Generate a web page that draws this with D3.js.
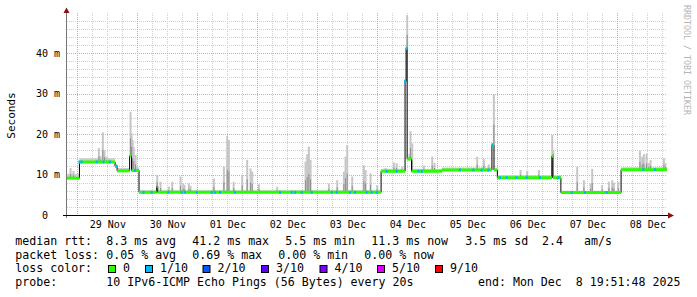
<!DOCTYPE html>
<html>
<head>
<meta charset="utf-8">
<script src="https://cdn.jsdelivr.net/npm/d3@7"></script>
<style>
  body { margin: 0; background: #fff; }
  text { font-family: "DejaVu Sans Mono", monospace; white-space: pre; }
</style>
</head>
<body>
<script>
// median rtt as steps (ms): each value holds until the next time
const stepTimes = [
  "2025-11-28 19:52", "2025-11-29 00:50", "2025-11-29 15:05", "2025-11-29 15:55",
  "2025-11-29 20:55", "2025-11-29 21:40", "2025-11-30 00:40", "2025-11-30 07:45",
  "2025-11-30 08:10", "2025-12-04 01:30", "2025-12-04 11:05", "2025-12-04 11:30",
  "2025-12-04 11:55", "2025-12-04 13:40", "2025-12-05 01:50", "2025-12-05 21:50",
  "2025-12-05 22:40", "2025-12-06 00:00", "2025-12-06 21:50", "2025-12-06 22:15",
  "2025-12-07 01:25", "2025-12-08 01:30"
];
const stepMedian = [9.1, 13.1, 12.0, 10.9, 14.6, 11.0, 5.6, 7.0, 5.6, 10.8, 33.0, 41.2,
  13.8, 10.8, 11.1, 17.3, 11.1, 9.2, 14.5, 9.2, 5.55, 11.2];
// upper edge of the thin smoke band that follows the median
const stepSmokeTop = [10.2, 14.0, 12.6, 11.6, 15.2, 11.8, 6.1, 7.4, 6.1, 11.4, 33.5, 41.6,
  14.5, 11.4, 11.7, 17.8, 11.6, 9.8, 15.0, 9.8, 6.0, 11.8];

// smoke spikes: time and highest ping (ms)
const spikeTimes = [
  "2025-11-28 21:05", "2025-11-28 22:15", "2025-11-29 08:25", "2025-11-29 09:05",
  "2025-11-29 10:00", "2025-11-29 10:40", "2025-11-29 11:30", "2025-11-29 12:20",
  "2025-11-29 15:30", "2025-11-29 21:05", "2025-11-29 21:30", "2025-11-29 21:55",
  "2025-11-29 22:20", "2025-11-29 23:05", "2025-11-30 07:45", "2025-11-30 09:05",
  "2025-11-30 12:25", "2025-11-30 13:45", "2025-11-30 17:05", "2025-11-30 18:10",
  "2025-11-30 18:40", "2025-11-30 20:25", "2025-11-30 21:05", "2025-12-01 06:25",
  "2025-12-01 10:25", "2025-12-01 11:45", "2025-12-01 12:25", "2025-12-01 14:20",
  "2025-12-01 17:45", "2025-12-01 19:45", "2025-12-01 21:05", "2025-12-01 21:45",
  "2025-12-02 00:25", "2025-12-02 07:45", "2025-12-02 19:05", "2025-12-02 19:45",
  "2025-12-02 20:25", "2025-12-02 21:05", "2025-12-03 04:25", "2025-12-03 07:45",
  "2025-12-03 10:25", "2025-12-03 11:05", "2025-12-03 11:45", "2025-12-03 13:45",
  "2025-12-03 18:25", "2025-12-03 19:05", "2025-12-03 21:05", "2025-12-03 23:45",
  "2025-12-04 03:05", "2025-12-04 06:25", "2025-12-04 07:30", "2025-12-04 09:45",
  "2025-12-04 11:05", "2025-12-04 11:45", "2025-12-04 12:40", "2025-12-04 13:05",
  "2025-12-04 13:45", "2025-12-04 18:25", "2025-12-04 21:45", "2025-12-04 22:40",
  "2025-12-05 15:45", "2025-12-05 18:25", "2025-12-05 20:25", "2025-12-05 22:25",
  "2025-12-06 09:05", "2025-12-06 11:45", "2025-12-06 16:25", "2025-12-06 21:45",
  "2025-12-06 22:10", "2025-12-07 07:45", "2025-12-07 10:25", "2025-12-07 13:05",
  "2025-12-07 13:45", "2025-12-07 17:45", "2025-12-07 20:25", "2025-12-07 21:45",
  "2025-12-07 22:25", "2025-12-08 00:10", "2025-12-08 08:50", "2025-12-08 09:45",
  "2025-12-08 10:25", "2025-12-08 11:30", "2025-12-08 12:25", "2025-12-08 13:05",
  "2025-12-08 18:25", "2025-12-08 19:05"
];
const spikeTops = [
  11.6, 10.9, 16.5, 14.5, 20.4, 16.0, 14.4, 14.0,
  11.9, 25.5, 20.2, 18.5, 16.8, 14.8, 9.9, 8.2,
  7.0, 8.2, 9.5, 7.8, 7.4, 7.8, 7.2, 9.0,
  11.9, 19.5, 18.5, 8.2, 9.9, 13.6, 11.5, 10.7,
  7.6, 7.0, 13.2, 15.0, 16.9, 13.6, 7.8, 8.6,
  10.7, 14.4, 17.3, 9.5, 12.3, 11.1, 10.3, 7.4,
  11.6, 13.0, 12.8, 11.9, 33.5, 49.4, 15.2, 20.7,
  17.7, 12.2, 14.4, 12.9, 14.4, 13.75, 12.5, 29.8,
  11.1, 10.9, 11.1, 19.75, 16.0, 11.9, 8.6, 7.8,
  11.4, 7.4, 8.2, 8.6, 8.0, 8.2, 15.9, 14.4,
  15.0, 15.2, 12.8, 13.6, 14.0, 12.8
];

// samples with 1/10 packet loss
const lossTimes = [
  "2025-11-29 00:50", "2025-11-29 01:45", "2025-11-29 07:45", "2025-11-29 10:25",
  "2025-11-29 13:05", "2025-11-29 15:45", "2025-11-29 23:05", "2025-11-30 02:25",
  "2025-11-30 05:45", "2025-11-30 12:25", "2025-11-30 17:45", "2025-11-30 19:05",
  "2025-11-30 23:45", "2025-12-01 05:45", "2025-12-01 07:05", "2025-12-01 09:05",
  "2025-12-01 15:05", "2025-12-02 09:05", "2025-12-02 13:45", "2025-12-02 15:05",
  "2025-12-02 17:45", "2025-12-02 21:45", "2025-12-03 05:45", "2025-12-03 07:45",
  "2025-12-03 13:05", "2025-12-03 15:05", "2025-12-03 19:45", "2025-12-03 21:45",
  "2025-12-03 23:45", "2025-12-04 03:45", "2025-12-04 07:45", "2025-12-04 11:05",
  "2025-12-04 11:45", "2025-12-04 16:25", "2025-12-04 17:45", "2025-12-05 09:05",
  "2025-12-05 14:25", "2025-12-05 17:45", "2025-12-05 20:25", "2025-12-05 22:00",
  "2025-12-06 01:05", "2025-12-06 03:45", "2025-12-06 07:45", "2025-12-06 11:45",
  "2025-12-06 17:05", "2025-12-07 00:25", "2025-12-07 05:45", "2025-12-07 11:05",
  "2025-12-07 19:45", "2025-12-08 10:25", "2025-12-08 15:05"
];

const yTicks = [0, 10, 20, 30, 40];
const lossLabels = ["0", "1/10", "2/10", "3/10", "4/10", "5/10", "9/10"];
const lossColors = ["#26ff00", "#00b8ff", "#0059ff", "#5e00ff", "#7e00ff", "#dd00ff", "#ff0000"];
const lossBoxX = [108.5, 145.5, 203, 261.5, 320, 377.5, 435.5];

const rttLegend = [["median rtt:", 16], ["8.3 ms avg", 107], ["41.2 ms max", 193], ["5.5 ms min", 286],
  ["11.3 ms now", 372], ["3.5 ms sd  2.4   am/s", 466]];
const lossLegend = [["packet loss:", 16], ["0.05 % avg", 107], ["0.69 % max", 193],
  ["0.00 % min", 279], ["0.00 % now", 365]];

const parse = d3.timeParse("%Y-%m-%d %H:%M");
const parseS = d3.timeParse("%Y-%m-%d %H:%M:%S");
const start = parseS("2025-11-28 19:51:48");
const end = parseS("2025-12-08 19:51:48");

const x = d3.scaleTime().domain([start, end]).range([67, 667]);
const y = d3.scaleLinear().domain([0, 50]).range([215, 12.5]);

const steps = stepTimes.map((t, i) => ({ t: parse(t), v: stepMedian[i], top: stepSmokeTop[i] }));
const last = steps[steps.length - 1];
const stepsEnd = steps.concat([{ t: end, v: last.v, top: last.top }]);
const bis = d3.bisector(d => d.t).right;
const medianAt = t => steps[Math.max(0, bis(steps, t) - 1)].v;

const svg = d3.select("body").append("svg")
  .attr("width", 697)
  .attr("height", 297)
  .style("display", "block")
  .style("background", "#fff");

// grid
const grid = svg.append("g").attr("shape-rendering", "crispEdges").attr("stroke-dasharray", "1,1");
const px = v => Math.round(v) + 0.5;
d3.range(2, 50, 2).filter(v => v % 10 !== 0).forEach(v => {
  grid.append("line").attr("x1", 67).attr("x2", 667)
    .attr("y1", px(y(v))).attr("y2", px(y(v))).attr("stroke", "#cfcfcf");
});
d3.timeHour.every(6).range(start, end).filter(d => d.getHours() !== 0).forEach(d => {
  grid.append("line").attr("x1", px(x(d))).attr("x2", px(x(d)))
    .attr("y1", 13).attr("y2", 215).attr("stroke", "#cfcfcf");
});
[10, 20, 30, 40].forEach(v => {
  grid.append("line").attr("x1", 67).attr("x2", 667)
    .attr("y1", px(y(v))).attr("y2", px(y(v))).attr("stroke", "#eda0a0");
});
d3.timeDay.range(start, end).forEach(d => {
  grid.append("line").attr("x1", px(x(d))).attr("x2", px(x(d)))
    .attr("y1", 13).attr("y2", 215).attr("stroke", "#eda0a0");
});

// smoke band along the median
svg.append("path")
  .datum(stepsEnd)
  .attr("fill", "#cdcdcd")
  .attr("d", d3.area().curve(d3.curveStepAfter)
    .x(d => x(d.t)).y0(d => y(d.v)).y1(d => y(d.top)));

// smoke spikes
const spikes = spikeTimes.map((t, i) => ({ t: parse(t), top: spikeTops[i] }));
const sw = x(new Date(start.getTime() + 24 * 60 * 1000)) - x(start);
const darkTop = d => medianAt(d.t) + 0.4 * (d.top - medianAt(d.t));
svg.append("g").selectAll("rect").data(spikes).enter().append("rect")
  .attr("x", d => x(d.t) - 0.5)
  .attr("width", sw + 1)
  .attr("y", d => y(d.top))
  .attr("height", d => y(medianAt(d.t)) - y(d.top))
  .attr("fill", "#c6c6c6");
svg.append("g").selectAll("rect").data(spikes).enter().append("rect")
  .attr("x", d => x(d.t))
  .attr("width", sw)
  .attr("y", d => y(darkTop(d)))
  .attr("height", d => y(medianAt(d.t)) - y(darkTop(d)))
  .attr("fill", "#8e8e8e");

// thin black median line
svg.append("path")
  .datum(stepsEnd)
  .attr("fill", "none")
  .attr("stroke", "#000")
  .attr("stroke-width", 1)
  .attr("d", d3.line().curve(d3.curveStepAfter).x(d => x(d.t)).y(d => y(d.v)));

// loss coloured median
svg.append("g").selectAll("line").data(steps).enter().append("line")
  .attr("x1", d => x(d.t))
  .attr("x2", (d, i) => x(stepsEnd[i + 1].t))
  .attr("y1", d => y(d.v))
  .attr("y2", d => y(d.v))
  .attr("stroke", lossColors[0])
  .attr("stroke-width", 3);
svg.append("g").selectAll("rect").data(lossTimes.map(parse)).enter().append("rect")
  .attr("x", d => x(d) - 1)
  .attr("width", 2)
  .attr("y", d => y(medianAt(d)) - 1.5)
  .attr("height", 3)
  .attr("fill", lossColors[1]);

// axes
const noons = d3.timeDay.range(start, end).map(d => d3.timeHour.offset(d, 12)).filter(d => d < end);
const xAxis = svg.append("g")
  .attr("transform", "translate(0,215)")
  .call(d3.axisBottom(x).tickValues(noons).tickFormat(d3.timeFormat("%d %b")).tickSize(0).tickPadding(6));
const yAxis = svg.append("g")
  .attr("transform", "translate(67,0)")
  .call(d3.axisLeft(y).tickValues(yTicks).tickFormat(d => d ? d + " m" : "0  ").tickSize(0).tickPadding(7));
[xAxis, yAxis].forEach(g => {
  g.select(".domain").remove();
  g.selectAll("text").attr("font-family", "DejaVu Sans Mono").attr("font-size", 10)
    .attr("fill", "#000").style("white-space", "pre");
});

svg.append("line").attr("x1", 66.5).attr("x2", 66.5).attr("y1", 11).attr("y2", 218)
  .attr("stroke", "#7a7a7a");
svg.append("line").attr("x1", 63).attr("x2", 669).attr("y1", 215.5).attr("y2", 215.5)
  .attr("stroke", "#000");
svg.append("path").attr("d", "M63.5,13L66.5,7.5L69.5,13Z").attr("fill", "#8b1010");
svg.append("path").attr("d", "M668,212.5L674,215.5L668,218.5Z").attr("fill", "#8b1010");

// titles
svg.append("text")
  .attr("transform", "translate(15,115.5) rotate(-90)")
  .attr("text-anchor", "middle")
  .attr("font-size", 11)
  .text("Seconds");
svg.append("text")
  .attr("transform", "translate(684,5) rotate(90)")
  .attr("font-size", 8.3)
  .attr("fill", "#b4b4b4")
  .text("RRDTOOL / TOBI OETIKER");

// legend
const legend = svg.append("g").attr("font-size", 11.6).attr("fill", "#000");
const legendText = (s, lx, ly) => legend.append("text")
  .attr("x", lx).attr("y", ly).style("white-space", "pre").text(s);
rttLegend.forEach(([s, lx]) => legendText(s, lx - 0.7, 245));
lossLegend.forEach(([s, lx]) => legendText(s, lx - 0.7, 258.5));
legendText("loss color:", 15.3, 272);
lossLabels.forEach((s, i) => {
  legend.append("rect").attr("x", lossBoxX[i]).attr("y", 265.5).attr("width", 7).attr("height", 7)
    .attr("fill", lossColors[i]).attr("stroke", "#000").attr("stroke-width", 1);
  legendText(s, lossBoxX[i] + 14.5, 272);
});
legendText("probe:", 15.3, 286);
legendText("10 IPv6-ICMP Echo Pings (56 Bytes) every 20s", 106.3, 286);
legendText("end: Mon Dec  8 19:51:48 2025", 478, 286);
</script>
</body>
</html>
